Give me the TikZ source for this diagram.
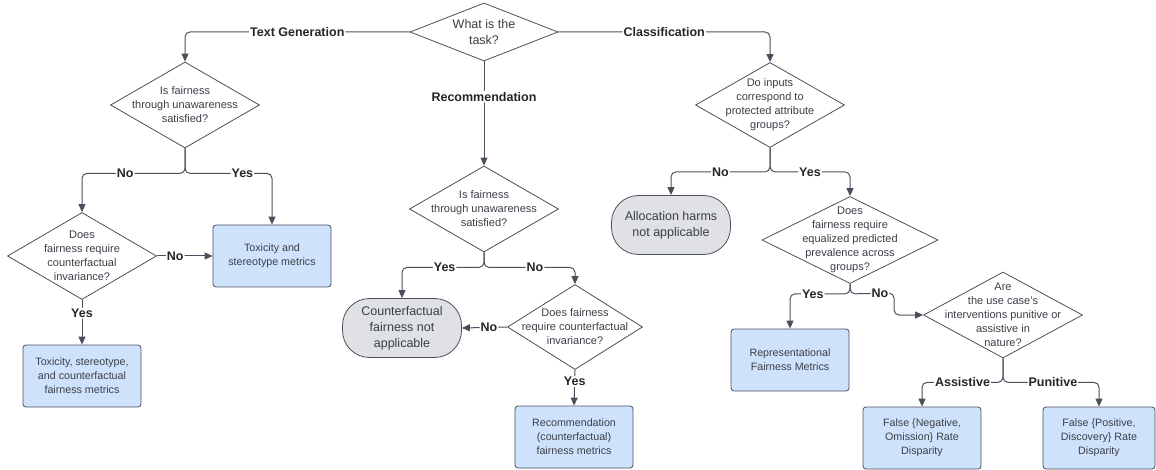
\documentclass[tikz,border=0pt]{standalone}
\usepackage{fontspec}
\setmainfont{Liberation Sans}
\usetikzlibrary{positioning, calc}
\usetikzlibrary{shapes.geometric}
\usetikzlibrary{arrows.meta}

\definecolor{linec}{HTML}{4A505B}
\definecolor{txtc}{HTML}{3A3F48}
\definecolor{boxfill}{HTML}{CFE2FC}
\definecolor{endfill}{HTML}{DFE1E5}

\tikzset{
  dia/.style={diamond, draw=linec, fill=white, line width=0.8pt, inner sep=0pt},
  dtxt/.style={align=center, text=txtc, inner sep=0pt, font=\fontsize{11}{14}\selectfont},
  metric/.style={rectangle, rounded corners=3pt, draw=linec, fill=boxfill, line width=0.8pt,
    minimum width=118pt, minimum height=62pt, align=center, text=txtc,
    font=\fontsize{10.7}{14}\selectfont},
  nabox/.style={rectangle, rounded corners=27pt, draw=linec, fill=endfill, line width=0.8pt,
    minimum width=119pt, minimum height=59pt, align=center, text=txtc,
    font=\fontsize{12.5}{16}\selectfont},
  conn/.style={draw=linec, line width=1pt, rounded corners=5pt, -{Triangle[length=8pt,width=7pt]}},
  lbl/.style={fill=white, inner sep=1pt, text=black!85, font=\bfseries\fontsize{12.5}{14}\selectfont}
}

\begin{document}
\begin{tikzpicture}[x=1pt, y=-1pt]
\useasboundingbox (0,0) rectangle (1156,470);

% root
\node[dia, minimum width=148pt, minimum height=58pt,
  label={[dtxt, font=\fontsize{12.5}{16}\selectfont]center:{What is the\\task?}}] (task) at (484,32) {};

% text generation branch
\node[dia, minimum width=149pt, minimum height=86pt,
  label={[dtxt]center:{Is fairness\\through unawareness\\satisfied?}}] (tgftu) at (185,105) {};
\node[dia, minimum width=149pt, minimum height=87pt,
  label={[dtxt]center:{Does\\fairness require\\counterfactual\\invariance?}}] (tgci) at (82,256) {};
\node[metric] (toxst) at (272,256) {Toxicity and\\stereotype metrics};
\node[metric] (toxcf) at (82,376) {Toxicity, stereotype,\\and counterfactual\\fairness metrics};

% recommendation branch
\node[dia, minimum width=149pt, minimum height=86pt,
  label={[dtxt]center:{Is fairness\\through unawareness\\satisfied?}}] (recftu) at (484,209) {};
\node[nabox] (cfna) at (402,328) {Counterfactual\\fairness not\\applicable};
\node[dia, minimum width=135pt, minimum height=85pt,
  label={[dtxt]center:{Does fairness\\require counterfactual\\invariance?}}] (recci) at (575,327) {};
\node[metric] (recm) at (574,437) {Recommendation\\(counterfactual)\\fairness metrics};

% classification branch
\node[dia, minimum width=149pt, minimum height=85pt,
  label={[dtxt]center:{Do inputs\\correspond to\\protected attribute\\groups?}}] (groups) at (770,105) {};
\node[nabox] (allocna) at (671,225) {Allocation harms\\not applicable};
\node[dia, minimum width=176pt, minimum height=87pt,
  label={[dtxt]center:{Does\\fairness require\\equalized predicted\\prevalence across\\groups?}}] (eqprev) at (850,240) {};
\node[metric] (repm) at (790,360) {Representational\\Fairness Metrics};
\node[dia, minimum width=159pt, minimum height=86pt,
  label={[dtxt]center:{Are\\the use case's\\interventions punitive or\\assistive in\\nature?}}] (punass) at (1003,315) {};
\node[metric] (fnr) at (922,438) {False \{Negative,\\Omission\} Rate\\Disparity};
\node[metric, minimum width=112pt] (fpr) at (1099,438) {False \{Positive,\\Discovery\} Rate\\Disparity};

\coordinate (jog) at (894,293);

% connectors
\draw[conn] (task.west) -| node[lbl, pos=0.25] {Text Generation} (tgftu.north);
\draw[conn] (task.east) -| node[lbl, pos=0.25] {Classification} (groups.north);
\draw[conn] (task.south) -- node[lbl, pos=0.34] {Recommendation} (recftu.north);

\draw[conn] (tgftu.south) -- ++(0,25) -| node[lbl, pos=0.29] {No} (tgci.north);
\draw[conn] (tgftu.south) -- ++(0,25) -| node[lbl, pos=0.33] {Yes} (toxst.north);
\draw[conn] (tgci.east) -- node[lbl, pos=0.33] {No} (toxst.west);
\draw[conn] (tgci.south) -- node[lbl, pos=0.3] {Yes} (toxcf.north);

\draw[conn] (recftu.south) -- ++(0,15) -| node[lbl, pos=0.24] {Yes} (cfna.north);
\draw[conn] (recftu.south) -- ++(0,15) -| node[lbl, pos=0.28] {No} (recci.north);
\draw[conn] (recci.west) -- node[lbl, pos=0.4] {No} (cfna.east);
\draw[conn] (recci.south) -- node[lbl, pos=0.33] {Yes} (recm.north);

\draw[conn] (groups.south) -- ++(0,24) -| node[lbl, pos=0.25] {No} (allocna.north);
\draw[conn] (groups.south) -- ++(0,24) -| node[lbl, pos=0.25] {Yes} (eqprev.north);
\draw[conn] (eqprev.south) -- ++(0,10) -| node[lbl, pos=0.31] {Yes} (repm.north);
\draw[conn] (eqprev.south) -- ++(0,10) -- node[lbl, pos=0.68] {No} (jog) |- (punass.west);
\draw[conn] (punass.south) -- ++(0,24) -| node[lbl, pos=0.25] {Assistive} (fnr.north);
\draw[conn] (punass.south) -- ++(0,24) -| node[lbl, pos=0.26] {Punitive} (fpr.north);

\end{tikzpicture}
\end{document}
